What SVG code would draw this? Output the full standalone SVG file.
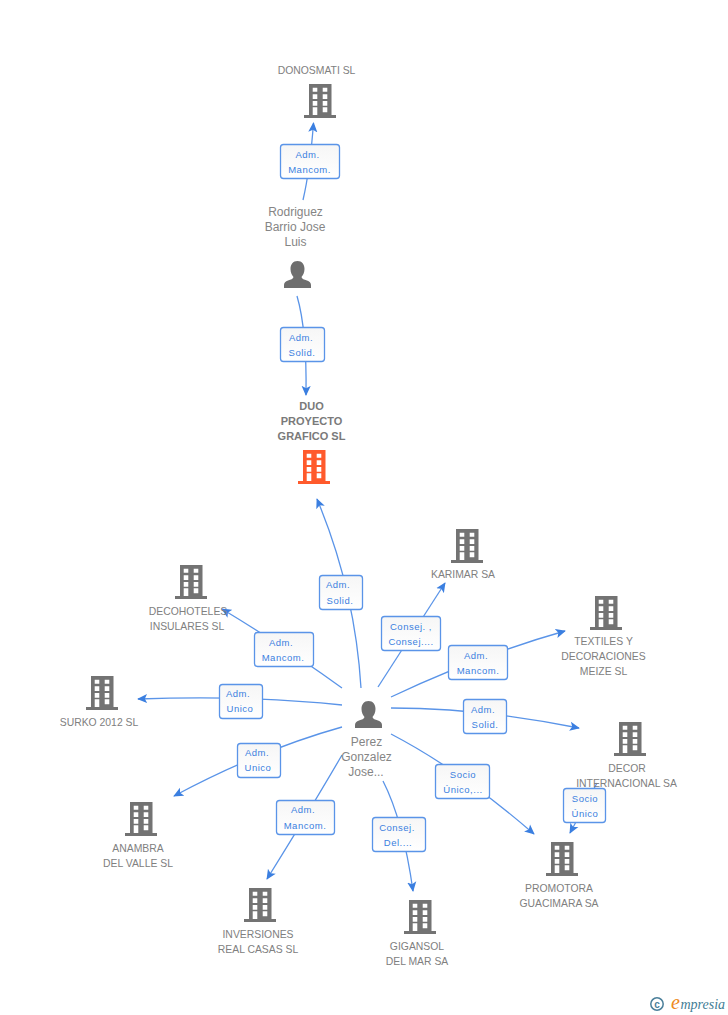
<svg xmlns="http://www.w3.org/2000/svg" width="728" height="1015" viewBox="0 0 728 1015">
<style>
text{font-family:"Liberation Sans",Arial,sans-serif}
.n{font-size:10.4px;fill:#808080;text-anchor:middle}
.p{font-size:12px;fill:#858585;text-anchor:middle}
.m{font-size:11px;font-weight:bold;fill:#7a7a7a;text-anchor:middle}
.l{font-size:9.5px;fill:#3b7fe0;text-anchor:middle;letter-spacing:.5px}
.b{fill:url(#g);stroke:#5a94e8;stroke-width:1.3}
.c{fill:none;stroke:#5a94e8;stroke-width:1.3;marker-end:url(#a)}
</style>
<defs>
<linearGradient id="g" x1="0" y1="0" x2="0" y2="1"><stop offset="0" stop-color="#f6f6f6"/><stop offset="1" stop-color="#ffffff"/></linearGradient>
<marker id="a" viewBox="0 0 12 10" refX="10" refY="5" markerWidth="11" markerHeight="10" markerUnits="userSpaceOnUse" orient="auto"><path d="M0 0L11 5L0 10L2.5 5Z" fill="#3b7fe0"/></marker>
<path id="bd" fill-rule="evenodd" d="M5 0H27.500V31H32V34H0V31H5ZM8.700 3.700V7.700H13.300V3.700ZM18.700 3.700V7.700H23.300V3.700ZM8.700 10.300V15H13.300V10.300ZM18.700 10.300V15H23.300V10.300ZM8.700 17V21.700H13.300V17ZM18.700 17V21.700H23.300V17ZM8.700 23.300V31H13.300V23.300ZM18.700 23.300V28.300H23.300V23.300Z"/>
<path id="pr" d="M13.500 0C18 0 20.500 3.500 20.500 8C20.500 11.500 19 14.500 17.500 16C18 18 20 18.500 23 19.500C25.500 20.500 27 21.500 27 24V27H0V24C0 21.500 1.500 20.500 4 19.500C7 18.500 9 18 9.500 16C8 14.500 6.500 11.500 6.500 8C6.500 3.500 9 0 13.500 0Z"/>
</defs>
<g id="connectors">
<path class="c" d="M303 200Q310 170 313.500 123"/>
<path class="c" d="M297 296Q307 330 306 395"/>
<path class="c" d="M361 688Q355 590 317 499"/>
<path class="c" d="M378 687L445 583"/>
<path class="c" d="M391 697Q480 655 565 631"/>
<path class="c" d="M391 708Q480 708 579 728"/>
<path class="c" d="M391 734Q460 770 534 834"/>
<path class="c" d="M383 781Q403 820 413 891"/>
<path class="c" d="M342 755Q310 810 267 879"/>
<path class="c" d="M342 727Q260 750 174 796"/>
<path class="c" d="M342 705Q250 695 138 699"/>
<path class="c" d="M342 688Q290 650 222 609"/>
<path class="c" d="M597 783L570 833"/>
</g>
<g id="DONOSMATI"><text class="n" x="316.500" y="74">DONOSMATI SL</text><use href="#bd" x="304" y="84" fill="#737373"/></g>
<g id="Rodriguez"><text class="p" x="295.500" y="216">Rodriguez</text><text class="p" x="295" y="231">Barrio Jose</text><text class="p" x="295.500" y="246">Luis</text><use href="#pr" x="284" y="261" fill="#6e6e6e"/></g>
<g id="DUO"><text class="m" x="311.500" y="410">DUO</text><text class="m" x="311.500" y="425">PROYECTO</text><text class="m" x="311.500" y="440">GRAFICO SL</text><use href="#bd" x="298" y="450" fill="#ff5a2c"/></g>
<g id="KARIMAR"><use href="#bd" x="451" y="529" fill="#737373"/><text class="n" x="463" y="578">KARIMAR SA</text></g>
<g id="TEXTILES"><use href="#bd" x="590" y="596" fill="#737373"/><text class="n" x="603.500" y="645">TEXTILES Y</text><text class="n" x="603.500" y="660">DECORACIONES</text><text class="n" x="603.500" y="675">MEIZE SL</text></g>
<g id="DECOR"><use href="#bd" x="614" y="722" fill="#737373"/><text class="n" x="627" y="772">DECOR</text><text class="n" x="626.500" y="787">INTERNACIONAL SA</text></g>
<g id="PROMOTORA"><use href="#bd" x="546" y="842" fill="#737373"/><text class="n" x="559" y="892">PROMOTORA</text><text class="n" x="559" y="907">GUACIMARA SA</text></g>
<g id="GIGANSOL"><use href="#bd" x="404" y="900" fill="#737373"/><text class="n" x="417" y="950">GIGANSOL</text><text class="n" x="417" y="965">DEL MAR SA</text></g>
<g id="INVERSIONES"><use href="#bd" x="244" y="888" fill="#737373"/><text class="n" x="258" y="938">INVERSIONES</text><text class="n" x="258" y="953">REAL CASAS SL</text></g>
<g id="ANAMBRA"><use href="#bd" x="125" y="802" fill="#737373"/><text class="n" x="138" y="852">ANAMBRA</text><text class="n" x="138" y="867">DEL VALLE SL</text></g>
<g id="SURKO"><use href="#bd" x="86" y="676" fill="#737373"/><text class="n" x="99" y="726">SURKO 2012 SL</text></g>
<g id="DECOHOTELES"><use href="#bd" x="175" y="565" fill="#737373"/><text class="n" x="188" y="615">DECOHOTELES</text><text class="n" x="187" y="630">INSULARES SL</text></g>
<g id="Perez"><use href="#pr" x="355" y="701" fill="#6e6e6e"/><text class="p" x="366.500" y="746">Perez</text><text class="p" x="366.500" y="761">Gonzalez</text><text class="p" x="366" y="776">Jose...</text></g>
<g id="labels">
<g><rect class="b" x="280.500" y="144.500" width="59" height="34" rx="3"/><text class="l" x="307.500" y="158">Adm.</text><text class="l" x="309.500" y="173">Mancom.</text></g>
<g><rect class="b" x="280.500" y="327.500" width="44" height="34" rx="3"/><text class="l" x="301" y="341">Adm.</text><text class="l" x="302" y="356">Solid.</text></g>
<g><rect class="b" x="319.500" y="575.500" width="43" height="34" rx="3"/><text class="l" x="338" y="588">Adm.</text><text class="l" x="340" y="604">Solid.</text></g>
<g><rect class="b" x="381.500" y="616.500" width="59" height="34" rx="3"/><text class="l" x="411" y="630">Consej. ,</text><text class="l" x="411" y="645">Consej....</text></g>
<g><rect class="b" x="448.500" y="645.500" width="59" height="34" rx="3"/><text class="l" x="476" y="659">Adm.</text><text class="l" x="478" y="674">Mancom.</text></g>
<g><rect class="b" x="254.500" y="632.500" width="59" height="34" rx="3"/><text class="l" x="281" y="646">Adm.</text><text class="l" x="283" y="661">Mancom.</text></g>
<g><rect class="b" x="219.500" y="684.500" width="43" height="34" rx="3"/><text class="l" x="238" y="697">Adm.</text><text class="l" x="240" y="712">Unico</text></g>
<g><rect class="b" x="463.500" y="699.500" width="43" height="34" rx="3"/><text class="l" x="483" y="713">Adm.</text><text class="l" x="485" y="728">Solid.</text></g>
<g><rect class="b" x="237.500" y="743.500" width="43" height="34" rx="3"/><text class="l" x="257" y="756">Adm.</text><text class="l" x="258" y="771">Unico</text></g>
<g><rect class="b" x="435.500" y="764.500" width="54" height="34" rx="3"/><text class="l" x="463" y="778">Socio</text><text class="l" x="463" y="793">Único,...</text></g>
<g><rect class="b" x="563.500" y="788.500" width="42" height="34" rx="3"/><text class="l" x="585" y="802">Socio</text><text class="l" x="585" y="817">Único</text></g>
<g><rect class="b" x="276.500" y="800.500" width="58" height="34" rx="3"/><text class="l" x="303" y="813">Adm.</text><text class="l" x="305" y="829">Mancom.</text></g>
<g><rect class="b" x="372.500" y="817.500" width="53" height="34" rx="3"/><text class="l" x="397" y="831">Consej.</text><text class="l" x="398" y="846">Del....</text></g>
</g>
<g id="logo"><circle cx="657" cy="1004" r="6.200" fill="none" stroke="#4a7f9a" stroke-width="1.500"/><text x="657" y="1007.500" font-size="10" fill="#4a7f9a" text-anchor="middle" style="font-weight:bold">c</text><text x="671" y="1009" font-size="20" fill="#ee8a22" style="font-style:italic;font-family:'Liberation Serif',serif">e</text><text x="680.500" y="1008.500" font-size="14" fill="#3f7d95" textLength="44.500" style="font-style:italic;font-family:'Liberation Serif',serif">mpresia</text></g>
</svg>
